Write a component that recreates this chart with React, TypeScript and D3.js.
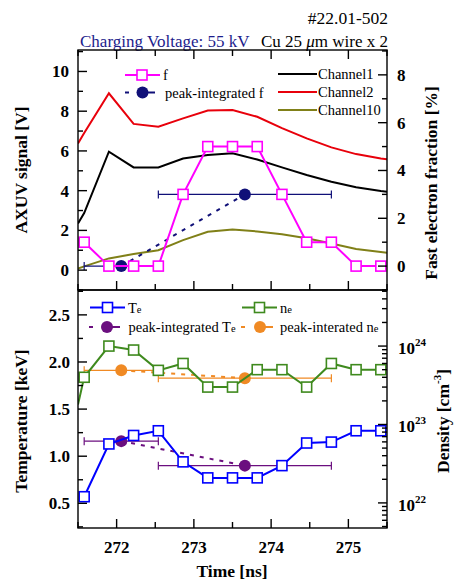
import React from "react";
import * as d3 from "d3";

// Sample times of the spectrometer frames [ns]
const sampleTime = [271.58, 271.9, 272.22, 272.54, 272.86, 273.18, 273.5, 273.82, 274.14, 274.46, 274.78, 275.1, 275.42];
// Fast electron fraction [%]
const fastFraction = [1, 0, 0, 0, 3, 5, 5, 5, 3, 1, 1, 0, 0];

// AXUV channel traces [V]
const channelTime = [271.5, 271.58, 271.9, 272.22, 272.54, 272.86, 273.18, 273.5, 273.82, 274.14, 274.46, 274.78, 275.1, 275.42, 275.5];
const channel1 = [2.35, 2.87, 5.96, 5.17, 5.17, 5.62, 5.79, 5.88, 5.57, 5.17, 4.79, 4.45, 4.17, 3.98, 3.95];
const channel2 = [6.38, 6.9, 8.9, 7.36, 7.22, 7.64, 8.03, 8.06, 7.72, 7.15, 6.63, 6.18, 5.84, 5.62, 5.58];
const channel10 = [0.08, 0.19, 0.59, 0.81, 1.0, 1.51, 1.93, 2.05, 1.95, 1.81, 1.6, 1.34, 1.06, 0.91, 0.87];

// Peak-integrated values
const peakTime = [272.06, 273.66];
const peakTimeErr = [0.48, 1.12];
const peakF = [0, 3.0];
const peakTe = [1.16, 0.9];
const peakNe = [4.9e23, 3.9e23];

// Electron temperature [keV] and density [cm^-3]
const electronTemp = [0.57, 1.13, 1.22, 1.27, 0.94, 0.77, 0.77, 0.77, 0.9, 1.14, 1.15, 1.27, 1.27];
const densityTime = [271.5, ...sampleTime];
const electronDensity = [1.8e23, 4.0e23, 1.0e24, 8.9e23, 4.9e23, 6.0e23, 3.0e23, 3.0e23, 5.0e23, 5.0e23, 3.0e23, 6.0e23, 5.0e23, 5.0e23];

// Axis ticks
const timeTicks = [272, 273, 274, 275];
const signalTicks = [0, 2, 4, 6, 8, 10];
const fractionTicks = [0, 2, 4, 6, 8];
const tempTicks = [0.5, 1.0, 1.5, 2.0, 2.5];
const densityDecades = [22, 23, 24];

const FONT = "'Liberation Serif', 'Times New Roman', serif";
const C = {
  f: "#ff00ff",
  peakF: "#101078",
  ch1: "#000000",
  ch2: "#e8000b",
  ch10: "#808018",
  te: "#0000ff",
  ne: "#3f8a1e",
  peakTe: "#6b0f7f",
  peakNe: "#f08a24",
  title: "#1c1c8c",
};

const L = 78, R = 387, T1 = 50, B1 = 290, T2 = 290, B2 = 528;

const x = d3.scaleLinear().domain([271.5, 275.5]).range([L, R]);
const ySig = d3.scaleLinear().domain([-1, 11.08]).range([B1, T1]);
const yFrac = d3.scaleLinear().domain([-1, 9.04]).range([B1, T1]);
const yTemp = d3.scaleLinear().domain([0.238, 2.764]).range([B2, T2]);
const yDen = d3.scaleLog().domain([Math.pow(10, 21.68), Math.pow(10, 24.715)]).range([B2, T2]);

const Square = ({ cx, cy, color }: { cx: number; cy: number; color: string }) => (
  <rect x={cx - 5} y={cy - 5} width={10} height={10} fill="#fff" stroke={color} strokeWidth={1.6} />
);

const ErrBar = ({ t, e, yv, color }: { t: number; e: number; yv: number; color: string }) => (
  <g stroke={color} strokeWidth={1.2}>
    <line x1={x(t - e)} x2={x(t + e)} y1={yv} y2={yv} />
    <line x1={x(t - e)} x2={x(t - e)} y1={yv - 4} y2={yv + 4} />
    <line x1={x(t + e)} x2={x(t + e)} y1={yv - 4} y2={yv + 4} />
  </g>
);

function pathOf(xs: number[], ys: number[], yScale: (v: number) => number) {
  const gen = d3.line<number>().x((_, i) => x(xs[i])).y((v) => yScale(v));
  return gen(ys) || "";
}

export default function App() {
  const minorTime = d3.range(271.5, 275.51, 0.5);
  const sigMinor = d3.range(-1, 11.01, 1).filter((v) => !signalTicks.includes(v));
  const fracMinor = d3.range(-1, 9.01, 1).filter((v) => !fractionTicks.includes(v));
  const tempMinor = d3.range(0.25, 2.76, 0.25).filter((v) => !tempTicks.some((t) => Math.abs(t - v) < 1e-6));
  const denMinor: number[] = [];
  for (let dec = 21; dec <= 24; dec++) {
    for (let m = 2; m <= 9; m++) {
      const v = m * Math.pow(10, dec);
      const p = yDen(v);
      if (p >= T2 && p <= B2) denMinor.push(v);
    }
  }

  return (
    <svg width={454} height={582} style={{ position: "absolute", left: 0, top: 0 }} fontFamily={FONT}>
      <rect width={454} height={582} fill="#fff" />
      <defs>
        <clipPath id="top-clip">
          <rect x={L} y={T1} width={R - L} height={B1 - T1} />
        </clipPath>
        <clipPath id="bot-clip">
          <rect x={L} y={T2} width={R - L} height={B2 - T2} />
        </clipPath>
      </defs>

      {/* Titles */}
      <text x={388} y={24} textAnchor="end" fontSize={17.5}>#22.01-502</text>
      <text x={80} y={46.5} fontSize={17} fill={C.title}>Charging Voltage: 55 kV</text>
      <text x={388} y={46.5} textAnchor="end" fontSize={17}>
        Cu 25 <tspan fontStyle="italic">μ</tspan>m wire x 2
      </text>

      {/* ---------- Top panel ---------- */}
      <g clipPath="url(#top-clip)" fill="none" strokeWidth={2}>
        <path d={pathOf(channelTime, channel2, ySig)} stroke={C.ch2} />
        <path d={pathOf(channelTime, channel1, ySig)} stroke={C.ch1} />
        <path d={pathOf(channelTime, channel10, ySig)} stroke={C.ch10} />
      </g>
      {peakTime.map((t, i) => (
        <ErrBar key={"ef" + i} t={t} e={peakTimeErr[i]} yv={yFrac(peakF[i])} color={C.peakF} />
      ))}
      <path d={pathOf(peakTime, peakF, yFrac)} stroke={C.peakF} strokeWidth={2} strokeDasharray="4 6" fill="none" />
      {peakTime.map((t, i) => (
        <circle key={"cf" + i} cx={x(t)} cy={yFrac(peakF[i])} r={6} fill={C.peakF} />
      ))}
      <path d={pathOf(sampleTime, fastFraction, yFrac)} stroke={C.f} strokeWidth={2} fill="none" />
      {sampleTime.map((t, i) => (
        <Square key={"sf" + i} cx={x(t)} cy={yFrac(fastFraction[i])} color={C.f} />
      ))}

      {/* Top legends */}
      <g fontSize={14.5}>
        <line x1={125} x2={160} y1={75} y2={75} stroke={C.f} strokeWidth={2} />
        <Square cx={142} cy={75} color={C.f} />
        <text x={163} y={80}>f</text>
        <line x1={125} x2={129} y1={92.5} y2={92.5} stroke={C.peakF} strokeWidth={2} />
        <line x1={142} x2={155} y1={92.5} y2={92.5} stroke={C.peakF} strokeWidth={2} />
        <circle cx={142.5} cy={92.5} r={6} fill={C.peakF} />
        <text x={165} y={97.5}>peak-integrated f</text>

        {[
          ["Channel1", C.ch1],
          ["Channel2", C.ch2],
          ["Channel10", C.ch10],
        ].map(([name, col], i) => (
          <g key={name}>
            <line x1={278} x2={317} y1={74 + i * 18} y2={74 + i * 18} stroke={col} strokeWidth={2} />
            <text x={318} y={79 + i * 18}>{name}</text>
          </g>
        ))}
      </g>

      {/* ---------- Bottom panel ---------- */}
      {peakTime.map((t, i) => (
        <ErrBar key={"en" + i} t={t} e={peakTimeErr[i]} yv={yDen(peakNe[i])} color={C.peakNe} />
      ))}
      {peakTime.map((t, i) => (
        <ErrBar key={"et" + i} t={t} e={peakTimeErr[i]} yv={yTemp(peakTe[i])} color={C.peakTe} />
      ))}
      <path d={pathOf(peakTime, peakNe, yDen)} stroke={C.peakNe} strokeWidth={2} strokeDasharray="4 6" fill="none" />
      <path d={pathOf(peakTime, peakTe, yTemp)} stroke={C.peakTe} strokeWidth={2} strokeDasharray="4 6" fill="none" />
      {peakTime.map((t, i) => (
        <g key={"cp" + i}>
          <circle cx={x(t)} cy={yDen(peakNe[i])} r={6} fill={C.peakNe} />
          <circle cx={x(t)} cy={yTemp(peakTe[i])} r={6} fill={C.peakTe} />
        </g>
      ))}
      <g clipPath="url(#bot-clip)">
        <path d={pathOf(densityTime, electronDensity, yDen)} stroke={C.ne} strokeWidth={2} fill="none" />
      </g>
      {sampleTime.map((t, i) => (
        <Square key={"sn" + i} cx={x(t)} cy={yDen(electronDensity[i + 1])} color={C.ne} />
      ))}
      <path d={pathOf(sampleTime, electronTemp, yTemp)} stroke={C.te} strokeWidth={2} fill="none" />
      {sampleTime.map((t, i) => (
        <Square key={"st" + i} cx={x(t)} cy={yTemp(electronTemp[i])} color={C.te} />
      ))}

      {/* Bottom legends */}
      <g fontSize={14.5}>
        <line x1={90} x2={125} y1={307.5} y2={307.5} stroke={C.te} strokeWidth={2} />
        <Square cx={107.5} cy={307.5} color={C.te} />
        <text x={128} y={312.5}>T<tspan fontSize={10.5}>e</tspan></text>
        <line x1={89} x2={93} y1={327} y2={327} stroke={C.peakTe} strokeWidth={2} />
        <line x1={107} x2={120} y1={327} y2={327} stroke={C.peakTe} strokeWidth={2} />
        <circle cx={107} cy={327} r={6} fill={C.peakTe} />
        <text x={128.5} y={332}>peak-integrated T<tspan fontSize={10.5}>e</tspan></text>

        <line x1={242} x2={277} y1={307.5} y2={307.5} stroke={C.ne} strokeWidth={2} />
        <Square cx={259.5} cy={307.5} color={C.ne} />
        <text x={280} y={312.5}>n<tspan fontSize={10.5}>e</tspan></text>
        <line x1={241} x2={245} y1={327} y2={327} stroke={C.peakNe} strokeWidth={2} />
        <line x1={260} x2={273} y1={327} y2={327} stroke={C.peakNe} strokeWidth={2} />
        <circle cx={260} cy={327} r={6} fill={C.peakNe} />
        <text x={280} y={332}>peak-interated n<tspan fontSize={10.5}>e</tspan></text>
      </g>

      {/* ---------- Frames and ticks ---------- */}
      <g stroke="#000" strokeWidth={1.4} fill="none">
        <rect x={L} y={T1} width={R - L} height={B1 - T1} />
        <rect x={L} y={T2} width={R - L} height={B2 - T2} />
        {minorTime.map((t) => {
          const len = timeTicks.includes(t) ? 9 : 6;
          return (
            <g key={"tx" + t}>
              <line x1={x(t)} x2={x(t)} y1={T1} y2={T1 + len} />
              <line x1={x(t)} x2={x(t)} y1={B1} y2={B1 - len} />
              <line x1={x(t)} x2={x(t)} y1={B2} y2={B2 - len} />
            </g>
          );
        })}
        {signalTicks.map((v) => (
          <line key={"sm" + v} x1={L} x2={L + 9} y1={ySig(v)} y2={ySig(v)} />
        ))}
        {sigMinor.map((v) => (
          <line key={"sn" + v} x1={L} x2={L + 5} y1={ySig(v)} y2={ySig(v)} />
        ))}
        {fractionTicks.map((v) => (
          <line key={"fm" + v} x1={R} x2={R - 9} y1={yFrac(v)} y2={yFrac(v)} />
        ))}
        {fracMinor.map((v) => (
          <line key={"fn" + v} x1={R} x2={R - 5} y1={yFrac(v)} y2={yFrac(v)} />
        ))}
        {tempTicks.map((v) => (
          <line key={"tm" + v} x1={L} x2={L + 9} y1={yTemp(v)} y2={yTemp(v)} />
        ))}
        {tempMinor.map((v) => (
          <line key={"tn" + v} x1={L} x2={L + 5} y1={yTemp(v)} y2={yTemp(v)} />
        ))}
        {densityDecades.map((d) => (
          <line key={"dm" + d} x1={R} x2={R - 9} y1={yDen(Math.pow(10, d))} y2={yDen(Math.pow(10, d))} />
        ))}
        {denMinor.map((v, i) => (
          <line key={"dn" + i} x1={R} x2={R - 5} y1={yDen(v)} y2={yDen(v)} />
        ))}
      </g>

      {/* Tick labels */}
      <g fontSize={17} fontWeight="bold">
        {timeTicks.map((t) => (
          <text key={"xl" + t} x={x(t)} y={553} textAnchor="middle">{t}</text>
        ))}
        {signalTicks.map((v) => (
          <text key={"sl" + v} x={69} y={ySig(v) + 6} textAnchor="end">{v}</text>
        ))}
        {fractionTicks.map((v) => (
          <text key={"fl" + v} x={397} y={yFrac(v) + 6}>{v}</text>
        ))}
        {tempTicks.map((v) => (
          <text key={"tl" + v} x={70} y={yTemp(v) + 6} textAnchor="end">{v.toFixed(1)}</text>
        ))}
        {densityDecades.map((d) => (
          <text key={"dl" + d} x={398} y={yDen(Math.pow(10, d)) + 8}>
            10<tspan fontSize={11} dy={-8}>{d}</tspan>
          </text>
        ))}
      </g>

      {/* Axis titles */}
      <g fontSize={17.5} fontWeight="bold">
        <text x={232} y={577} textAnchor="middle">Time [ns]</text>
        <text transform="translate(27,170) rotate(-90)" textAnchor="middle">AXUV signal [V]</text>
        <text transform="translate(27,421) rotate(-90)" textAnchor="middle">Temperature [keV]</text>
        <text transform="translate(437,183) rotate(-90)" textAnchor="middle">Fast electron fraction [%]</text>
        <text transform="translate(449,421) rotate(-90)" textAnchor="middle">
          Density [cm<tspan fontSize={11} dy={-8}>-3</tspan><tspan dy={8}>]</tspan>
        </text>
      </g>
    </svg>
  );
}
